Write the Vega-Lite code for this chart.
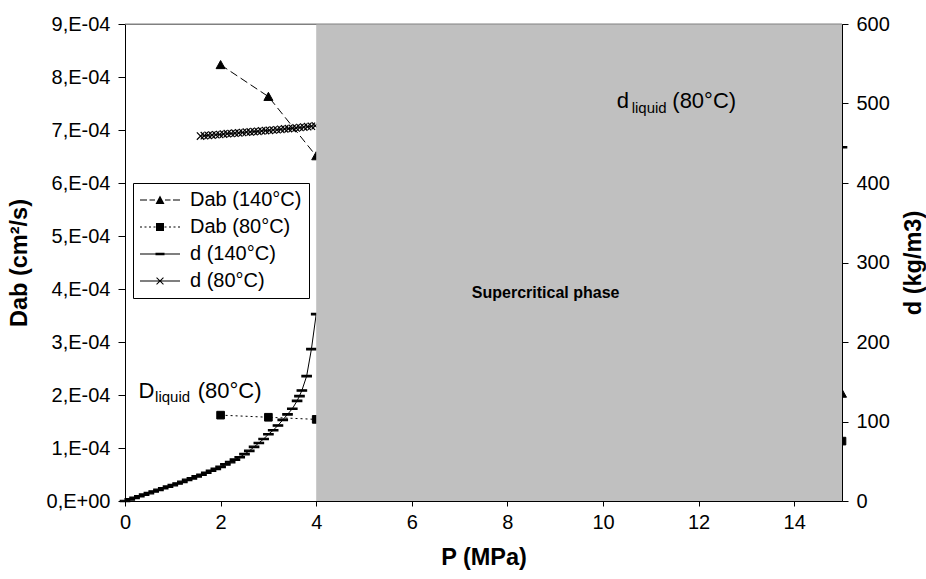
{
  "$schema": "https://vega.github.io/schema/vega-lite/v6.json",
  "width": 717,
  "height": 477,
  "autosize": {"type": "none"},
  "padding": {"left": 125, "top": 24, "right": 84, "bottom": 78},
  "background": "white",
  "config": {
    "font": "Liberation Sans",
    "view": {"stroke": "#808080", "strokeWidth": 1},
    "axis": {
      "grid": false,
      "labelFlush": false,
      "domainColor": "black",
      "tickColor": "black",
      "labelColor": "black",
      "titleColor": "black",
      "labelFont": "Liberation Sans",
      "titleFont": "Liberation Sans",
      "labelFontSize": 20,
      "titleFontSize": 23.5,
      "titleFontWeight": "bold"
    }
  },
  "datasets": {
    "rows": [
      {"series": "Dab (140°C)", "P": 2, "value": 0.000823},
      {"series": "Dab (140°C)", "P": 3, "value": 0.000763},
      {"series": "Dab (140°C)", "P": 4, "value": 0.000651},
      {"series": "Dab (140°C)", "P": 15, "value": 0.000203},
      {"series": "Dab (80°C)", "P": 2, "value": 0.000162},
      {"series": "Dab (80°C)", "P": 3, "value": 0.000158},
      {"series": "Dab (80°C)", "P": 4, "value": 0.000154},
      {"series": "Dab (80°C)", "P": 15, "value": 0.000113},
      {"series": "d (140°C)", "P": 0.0, "value": 0},
      {"series": "d (140°C)", "P": 0.1, "value": 2},
      {"series": "d (140°C)", "P": 0.2, "value": 4},
      {"series": "d (140°C)", "P": 0.3, "value": 6},
      {"series": "d (140°C)", "P": 0.4, "value": 8},
      {"series": "d (140°C)", "P": 0.5, "value": 10},
      {"series": "d (140°C)", "P": 0.6, "value": 12},
      {"series": "d (140°C)", "P": 0.7, "value": 14},
      {"series": "d (140°C)", "P": 0.8, "value": 16},
      {"series": "d (140°C)", "P": 0.9, "value": 18},
      {"series": "d (140°C)", "P": 1.0, "value": 20},
      {"series": "d (140°C)", "P": 1.1, "value": 22},
      {"series": "d (140°C)", "P": 1.2, "value": 24},
      {"series": "d (140°C)", "P": 1.3, "value": 26.5},
      {"series": "d (140°C)", "P": 1.4, "value": 28.5},
      {"series": "d (140°C)", "P": 1.5, "value": 31},
      {"series": "d (140°C)", "P": 1.6, "value": 33},
      {"series": "d (140°C)", "P": 1.7, "value": 35.5},
      {"series": "d (140°C)", "P": 1.8, "value": 38},
      {"series": "d (140°C)", "P": 1.9, "value": 40.5},
      {"series": "d (140°C)", "P": 2.0, "value": 43},
      {"series": "d (140°C)", "P": 2.1, "value": 46},
      {"series": "d (140°C)", "P": 2.2, "value": 49},
      {"series": "d (140°C)", "P": 2.3, "value": 52},
      {"series": "d (140°C)", "P": 2.4, "value": 55},
      {"series": "d (140°C)", "P": 2.5, "value": 59},
      {"series": "d (140°C)", "P": 2.6, "value": 63},
      {"series": "d (140°C)", "P": 2.7, "value": 68},
      {"series": "d (140°C)", "P": 2.8, "value": 73},
      {"series": "d (140°C)", "P": 2.9, "value": 78},
      {"series": "d (140°C)", "P": 3.0, "value": 84},
      {"series": "d (140°C)", "P": 3.1, "value": 89},
      {"series": "d (140°C)", "P": 3.2, "value": 95},
      {"series": "d (140°C)", "P": 3.3, "value": 102},
      {"series": "d (140°C)", "P": 3.4, "value": 109},
      {"series": "d (140°C)", "P": 3.5, "value": 116},
      {"series": "d (140°C)", "P": 3.6, "value": 126},
      {"series": "d (140°C)", "P": 3.65, "value": 132},
      {"series": "d (140°C)", "P": 3.7, "value": 139},
      {"series": "d (140°C)", "P": 3.8, "value": 157},
      {"series": "d (140°C)", "P": 3.9, "value": 191},
      {"series": "d (140°C)", "P": 4.0, "value": 235},
      {"series": "d (140°C)", "P": 15, "value": 445},
      {"series": "d (80°C)", "P": 1.58, "value": 459},
      {"series": "d (80°C)", "P": 1.66, "value": 459.5},
      {"series": "d (80°C)", "P": 1.74, "value": 460},
      {"series": "d (80°C)", "P": 1.82, "value": 460.3},
      {"series": "d (80°C)", "P": 1.9, "value": 460.7},
      {"series": "d (80°C)", "P": 1.98, "value": 461},
      {"series": "d (80°C)", "P": 2.06, "value": 461.5},
      {"series": "d (80°C)", "P": 2.14, "value": 462},
      {"series": "d (80°C)", "P": 2.22, "value": 462.3},
      {"series": "d (80°C)", "P": 2.3, "value": 462.7},
      {"series": "d (80°C)", "P": 2.38, "value": 463},
      {"series": "d (80°C)", "P": 2.46, "value": 463.5},
      {"series": "d (80°C)", "P": 2.54, "value": 464},
      {"series": "d (80°C)", "P": 2.62, "value": 464.3},
      {"series": "d (80°C)", "P": 2.7, "value": 464.7},
      {"series": "d (80°C)", "P": 2.78, "value": 465},
      {"series": "d (80°C)", "P": 2.86, "value": 465.5},
      {"series": "d (80°C)", "P": 2.94, "value": 466},
      {"series": "d (80°C)", "P": 3.02, "value": 466.3},
      {"series": "d (80°C)", "P": 3.1, "value": 466.7},
      {"series": "d (80°C)", "P": 3.18, "value": 467},
      {"series": "d (80°C)", "P": 3.26, "value": 467.5},
      {"series": "d (80°C)", "P": 3.34, "value": 468},
      {"series": "d (80°C)", "P": 3.42, "value": 468.4},
      {"series": "d (80°C)", "P": 3.5, "value": 468.8},
      {"series": "d (80°C)", "P": 3.58, "value": 469.3},
      {"series": "d (80°C)", "P": 3.66, "value": 469.8},
      {"series": "d (80°C)", "P": 3.74, "value": 470.3},
      {"series": "d (80°C)", "P": 3.82, "value": 470.8},
      {"series": "d (80°C)", "P": 3.9, "value": 471.4},
      {"series": "d (80°C)", "P": 3.98, "value": 472}
    ]
  },
  "resolve": {
    "scale": {"y": "independent", "shape": "independent", "strokeDash": "independent"},
    "axis": {"y": "independent"},
    "legend": {"shape": "independent", "strokeDash": "independent"}
  },
  "encoding": {
    "x": {
      "field": "P",
      "type": "quantitative",
      "scale": {"domain": [0, 15], "nice": false, "zero": false},
      "axis": {
        "title": "P (MPa)",
        "values": [0, 2, 4, 6, 8, 10, 12, 14],
        "format": "d",
        "tickSize": 5,
        "labelPadding": 6,
        "titlePadding": 13
      }
    }
  },
  "layer": [
    {
      "data": {"name": "rows"},
      "transform": [{"filter": "indexof(datum.series, 'Dab') === 0"}],
      "encoding": {
        "y": {
          "field": "value",
          "type": "quantitative",
          "scale": {"domain": [0, 0.0009], "nice": false},
          "axis": {
            "title": "Dab (cm²/s)",
            "orient": "left",
            "values": [0, 0.0001, 0.0002, 0.0003, 0.0004, 0.0005, 0.0006, 0.0007, 0.0008, 0.0009],
            "labelExpr": "datum.value < 0.00000001 ? '0,E+00' : round(datum.value * 10000) + ',E-04'",
            "tickSize": 7,
            "labelPadding": 8,
            "titlePadding": 15
          }
        }
      },
      "layer": [
        {
          "mark": {"type": "line", "color": "black", "strokeWidth": 1},
          "encoding": {
            "strokeDash": {
              "field": "series",
              "type": "nominal",
              "scale": {"domain": ["Dab (140°C)", "Dab (80°C)"], "range": [[8, 4], [2, 3]]},
              "legend": null
            }
          }
        },
        {
          "mark": {"type": "point", "filled": true, "fill": "black", "stroke": "black", "strokeWidth": 1, "opacity": 1, "size": 81},
          "encoding": {
            "shape": {
              "field": "series",
              "type": "nominal",
              "scale": {
                "domain": ["Dab (140°C)", "Dab (80°C)"],
                "range": ["M-1,0.85L0,-0.95L1,0.85Z", "M-0.85,-0.85H0.85V0.85H-0.85Z"]
              },
              "legend": null
            }
          }
        }
      ]
    },
    {
      "data": {"name": "rows"},
      "transform": [{"filter": "indexof(datum.series, 'd ') === 0"}],
      "encoding": {
        "y": {
          "field": "value",
          "type": "quantitative",
          "scale": {"domain": [0, 600], "nice": false},
          "axis": {
            "title": "d (kg/m3)",
            "orient": "right",
            "values": [0, 100, 200, 300, 400, 500, 600],
            "tickSize": 6,
            "labelPadding": 8,
            "titleAngle": 270,
            "titleBaseline": "top",
            "titlePadding": 12
          }
        }
      },
      "layer": [
        {
          "mark": {"type": "line", "color": "black", "strokeWidth": 1},
          "encoding": {"detail": {"field": "series", "type": "nominal"}}
        },
        {
          "mark": {"type": "point", "filled": true, "fill": "black", "stroke": "black", "strokeWidth": 1.2, "opacity": 1, "size": 110},
          "encoding": {
            "shape": {
              "field": "series",
              "type": "nominal",
              "scale": {
                "domain": ["d (140°C)", "d (80°C)"],
                "range": ["M-0.9,-0.14H0.9V0.14H-0.9Z", "M-0.7,-0.7L0.7,0.7M-0.7,0.7L0.7,-0.7"]
              },
              "legend": null
            }
          }
        }
      ]
    },
    {
      "data": {"values": [{"from": 4, "to": 15}]},
      "mark": {"type": "rect", "color": "#C0C0C0", "opacity": 1},
      "encoding": {
        "x": {"field": "from", "type": "quantitative"},
        "x2": {"field": "to"}
      }
    },
    {
      "encoding": {
        "y": {
          "field": "y",
          "type": "quantitative",
          "scale": {"domain": [0, 0.0009], "nice": false},
          "axis": null
        }
      },
      "layer": [
        {
          "data": {"values": [{"P": 0, "P2": 15, "y": 0.0009}]},
          "mark": {"type": "rule", "color": "#808080", "strokeWidth": 1},
          "encoding": {"x": {"field": "P", "type": "quantitative"}, "x2": {"field": "P2"}}
        },
        {
          "data": {"values": [
            {"P": 10.29, "y": 0.0007415, "label": "d"},
            {"P": 11.45, "y": 0.0007415, "label": "(80°C)"},
            {"P": 0.28, "y": 0.0001943, "label": "D"},
            {"P": 1.52, "y": 0.0001943, "label": "(80°C)"}
          ]},
          "mark": {"type": "text", "align": "left", "baseline": "alphabetic", "fontSize": 22, "font": "Liberation Sans", "color": "black"},
          "encoding": {"x": {"field": "P", "type": "quantitative"}, "text": {"field": "label"}}
        },
        {
          "data": {"values": [
            {"P": 10.6, "y": 0.000732, "label": "liquid"},
            {"P": 0.63, "y": 0.0001868, "label": "liquid"}
          ]},
          "mark": {"type": "text", "align": "left", "baseline": "alphabetic", "fontSize": 15, "font": "Liberation Sans", "color": "black"},
          "encoding": {"x": {"field": "P", "type": "quantitative"}, "text": {"field": "label"}}
        },
        {
          "data": {"values": [{"P": 8.8, "y": 0.000393, "label": "Supercritical phase"}]},
          "mark": {"type": "text", "align": "center", "baseline": "middle", "fontSize": 16, "fontWeight": "bold", "font": "Liberation Sans", "color": "black"},
          "encoding": {"x": {"field": "P", "type": "quantitative"}, "text": {"field": "label"}}
        }
      ]
    },
    {
      "data": {"values": []},
      "mark": {"type": "point", "filled": true, "fill": "black", "stroke": "black", "strokeWidth": 1, "opacity": 1},
      "encoding": {
        "shape": {
          "field": "series",
          "type": "nominal",
          "scale": {
            "domain": ["Dab (140°C)", "Dab (80°C)", "d (140°C)", "d (80°C)"],
            "range": [
              "M-1,-0.05H-0.3V0.05H-1ZM-0.05,-0.05H0.5V0.05H-0.05ZM1.5,-0.05H2.05V0.05H1.5ZM2.3,-0.05H3V0.05H2.3ZM0.55,0.4L1,-0.45L1.45,0.4Z",
              "M-1,-0.05H-0.8V0.05H-1ZM-0.55,-0.05H-0.35V0.05H-0.55ZM-0.1,-0.05H0.1V0.05H-0.1ZM0.35,-0.05H0.55V0.05H0.35ZM1.45,-0.05H1.65V0.05H1.45ZM1.9,-0.05H2.1V0.05H1.9ZM2.35,-0.05H2.55V0.05H2.35ZM2.8,-0.05H3V0.05H2.8ZM0.6,-0.4H1.4V0.4H0.6Z",
              "M-1,-0.05H3V0.05H-1ZM0.55,-0.12H1.45V0.12H0.55Z",
              "M-1,-0.05H3V0.05H-1ZM0.62,-0.31L0.69,-0.38L1.38,0.31L1.31,0.38ZM0.69,0.38L0.62,0.31L1.31,-0.38L1.38,-0.31Z"
            ]
          },
          "legend": {
            "title": null,
            "orient": "none",
            "legendX": 8,
            "legendY": 159,
            "symbolSize": 400,
            "symbolStrokeWidth": 0,
            "symbolFillColor": "black",
            "symbolStrokeColor": "black",
            "labelFont": "Liberation Sans",
            "labelFontSize": 20,
            "labelColor": "black",
            "labelOffset": 30,
            "rowPadding": 7,
            "padding": 7,
            "strokeColor": "black",
            "fillColor": "white"
          }
        }
      }
    }
  ]
}
